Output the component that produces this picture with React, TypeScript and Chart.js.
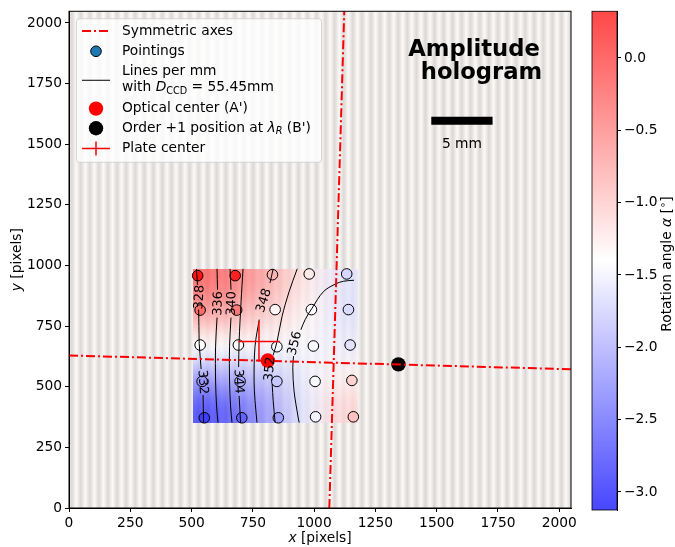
import React, { useEffect, useRef } from "react";
import { Chart, registerables } from "chart.js";

Chart.register(...registerables);

const FONT = "'DejaVu Sans', 'Liberation Sans', sans-serif";
const TICK_SIZE = 13.8;

// ---- axes ----
const X_MIN = 0;
const X_MAX = 2048;
const Y_MIN = 0;
const Y_MAX = 2048;
const X_TICKS = [0, 250, 500, 750, 1000, 1250, 1500, 1750, 2000];
const Y_TICKS = [0, 250, 500, 750, 1000, 1250, 1500, 1750, 2000];

// ---- colour scale (rotation angle, degrees) ----
const ALPHA_MIN = -3.125;
const ALPHA_MAX = 0.323;
const CB_TICKS = [-3.0, -2.5, -2.0, -1.5, -1.0, -0.5, 0.0];
const CMAP_ALPHA = 0.72;

// ---- pointings (5 x 5 grid) ----
const POINTING_X = [525, 678, 830, 980, 1133, 535, 684, 841, 989, 1140, 535, 691, 848, 997, 1147, 543, 698, 848, 1004, 1154, 552, 705, 854, 1006, 1160];
const POINTING_Y = [958, 958, 962, 965, 965, 816, 816, 818, 818, 818, 672, 672, 665, 668, 672, 522, 522, 522, 522, 526, 372, 372, 372, 376, 376];
const POINTING_ALPHA = [0.2, 0.1, -0.89, -1.25, -1.67, -0.4, -0.5, -1.35, -1.42, -1.65, -1.4, -1.42, -1.45, -1.45, -1.6, -2.1, -1.95, -1.78, -1.45, -1.1, -2.71, -2.47, -2.05, -1.5, -0.98];

// ---- rotation-angle field (image extent and 5 x 5 cells, top row first) ----
const FIELD_X = [506, 1180];
const FIELD_Y = [352, 986];
const FIELD_ALPHA = [
  [-0.2, -0.45, -0.85, -1.25, -1.6],
  [-0.7, -0.85, -1.1, -1.35, -1.6],
  [-1.4, -1.42, -1.45, -1.45, -1.52],
  [-2.15, -2.0, -1.8, -1.5, -1.3],
  [-2.85, -2.55, -2.05, -1.55, -1.1],
];

// ---- special positions ----
const OPTICAL_CENTER = [811, 608];
const ORDER1_POSITION = [1344, 592];
const PLATE_CENTER = [775, 687];
const PLATE_ERR = [84, 84];
const SYM_AXIS_H = [[0, 629], [2048, 572]];
const SYM_AXIS_V = [[1062, 0], [1123, 2048]];

// ---- lines per mm contours (null = gap for the inline label) ----
const CONTOUR_LEVELS = [328, 332, 336, 340, 344, 348, 352, 356];
const CONTOUR_328 = [[520, 986], [524, 920], null, [529, 818], [531, 679]];
const CONTOUR_332 = [[531, 679], [539, 573], null, [547, 466], [549, 352]];
const CONTOUR_336 = [[604, 986], [606, 900], null, [604, 785], [598, 667], [598, 524], [602, 421], [608, 352]];
const CONTOUR_340 = [[657, 986], [661, 900], null, [661, 785], [655, 667], [655, 524], [659, 421], [665, 352]];
const CONTOUR_344 = [[710, 986], [702, 851], [694, 687], [692, 581], null, [694, 462], [700, 352]];
const CONTOUR_348 = [[833, 986], [820, 928], null, [776, 777], [759, 667], [755, 524], [759, 442], [767, 352]];
const CONTOUR_352 = [[931, 986], [898, 892], [869, 789], [849, 687], [833, 630], null, [829, 511], [833, 442], [841, 352]];
const CONTOUR_356 = [[1163, 939], [1120, 935], [1086, 923], [1038, 892], [991, 823], [963, 776], [946, 735], null, [916, 626], [913, 578], [918, 483], [936, 367], [939, 352]];
const CONTOUR_PATHS = [CONTOUR_328, CONTOUR_332, CONTOUR_336, CONTOUR_340, CONTOUR_344, CONTOUR_348, CONTOUR_352, CONTOUR_356];
const CONTOUR_LABEL_X = [533, 545, 609, 664, 691, 796, 820, 922];
const CONTOUR_LABEL_Y = [869, 519, 843, 843, 522, 855, 573, 679];
const CONTOUR_LABEL_ROT = [-87, 86, -88, -88, 87, -72, -85, -76];

// ---- hologram fringes and annotations ----
const FRINGE_PERIOD = 37;
const SCALE_BAR_START = 1478;
const SCALE_BAR_LENGTH = 250;
const SCALE_BAR_Y = 1597;
const SCALE_BAR_LABEL = "5 mm";
const TITLE_LINES = ["Amplitude", "hologram"];

function cmapRGB(v: number): number[] {
  let t = (v - ALPHA_MIN) / (ALPHA_MAX - ALPHA_MIN);
  t = Math.max(0, Math.min(1, t));
  if (t < 0.5) return [510 * t, 510 * t, 255];
  return [255, 510 * (1 - t), 510 * (1 - t)];
}
function onWhite(c: number[], a: number) {
  return c.map((v) => Math.round(255 * (1 - a) + a * v));
}
const rgb = (c: number[]) => `rgb(${Math.round(c[0])},${Math.round(c[1])},${Math.round(c[2])})`;

type Run = { t: string; style?: string; weight?: string; scale?: number; dy?: number };
function runFont(r: Run, size: number) {
  return `${r.style || "normal"} ${r.weight || "normal"} ${size * (r.scale || 1)}px ${FONT}`;
}
function drawRuns(ctx: CanvasRenderingContext2D, runs: Run[], x: number, y: number, size: number, align: "left" | "center") {
  let w = 0;
  for (const r of runs) {
    ctx.font = runFont(r, size);
    w += ctx.measureText(r.t).width;
  }
  let cx = align === "center" ? x - w / 2 : x;
  ctx.textAlign = "left";
  ctx.textBaseline = "middle";
  for (const r of runs) {
    ctx.font = runFont(r, size);
    ctx.fillText(r.t, cx, y + (r.dy || 0));
    cx += ctx.measureText(r.t).width;
  }
}

const toPts = (path: (number[] | null)[]) =>
  path.map((p) => (p ? { x: p[0], y: p[1] } : { x: null as any, y: null as any }));

const mainPlugin = {
  id: "hologram",
  beforeDraw(chart: any) {
    const { ctx, chartArea: ca, scales } = chart;
    ctx.save();
    ctx.fillStyle = "#ffffff";
    ctx.fillRect(0, 0, chart.width, chart.height);
    ctx.beginPath();
    ctx.rect(ca.left, ca.top, ca.right - ca.left, ca.bottom - ca.top);
    ctx.clip();
    ctx.fillStyle = "#fbfaf6";
    ctx.fillRect(ca.left, ca.top, ca.right - ca.left, ca.bottom - ca.top);
    const x0 = scales.x.getPixelForValue(0);
    const period = Math.abs(scales.x.getPixelForValue(FRINGE_PERIOD) - x0);
    for (let px = x0 + period * 0.3; px < ca.right + period; px += period) {
      const g = ctx.createLinearGradient(px - period / 2, 0, px + period / 2, 0);
      g.addColorStop(0, "rgba(221,215,216,0)");
      g.addColorStop(0.5, "rgba(221,215,216,1)");
      g.addColorStop(1, "rgba(221,215,216,0)");
      ctx.fillStyle = g;
      ctx.fillRect(px - period / 2, ca.top, period, ca.bottom - ca.top);
    }
    ctx.restore();
  },
  beforeDatasetsDraw(chart: any) {
    const { ctx, scales } = chart;
    const rows = FIELD_ALPHA.length;
    const cols = FIELD_ALPHA[0].length;
    const off = document.createElement("canvas");
    off.width = cols;
    off.height = rows;
    const octx = off.getContext("2d")!;
    const img = octx.createImageData(cols, rows);
    for (let r = 0; r < rows; r++)
      for (let c = 0; c < cols; c++) {
        const col = cmapRGB(FIELD_ALPHA[r][c]);
        const i = (r * cols + c) * 4;
        img.data[i] = col[0];
        img.data[i + 1] = col[1];
        img.data[i + 2] = col[2];
        img.data[i + 3] = 255;
      }
    octx.putImageData(img, 0, 0);
    const l = scales.x.getPixelForValue(FIELD_X[0]);
    const r = scales.x.getPixelForValue(FIELD_X[1]);
    const t = scales.y.getPixelForValue(FIELD_Y[1]);
    const b = scales.y.getPixelForValue(FIELD_Y[0]);
    ctx.save();
    ctx.globalAlpha = CMAP_ALPHA;
    ctx.imageSmoothingEnabled = true;
    (ctx as any).imageSmoothingQuality = "high";
    ctx.drawImage(off, l, t, r - l, b - t);
    ctx.restore();
  },
  afterDatasetsDraw(chart: any) {
    const { ctx, chartArea: ca, scales } = chart;
    const X = (v: number) => scales.x.getPixelForValue(v);
    const Y = (v: number) => scales.y.getPixelForValue(v);
    ctx.save();
    // contour labels
    ctx.fillStyle = "#000";
    ctx.font = `12.8px ${FONT}`;
    ctx.textAlign = "center";
    ctx.textBaseline = "middle";
    CONTOUR_LEVELS.forEach((lev, i) => {
      ctx.save();
      ctx.translate(X(CONTOUR_LABEL_X[i]), Y(CONTOUR_LABEL_Y[i]));
      ctx.rotate((CONTOUR_LABEL_ROT[i] * Math.PI) / 180);
      ctx.fillText(String(lev), 0, 0);
      ctx.restore();
    });
    // title
    ctx.font = `bold 22.7px ${FONT}`;
    ctx.textAlign = "left";
    ctx.textBaseline = "alphabetic";
    ctx.fillText(TITLE_LINES[0], X(1384), Y(1863));
    ctx.fillText(TITLE_LINES[1], X(1435), Y(1767));
    // scale bar
    ctx.strokeStyle = "#000";
    ctx.lineWidth = 8;
    ctx.beginPath();
    ctx.moveTo(X(SCALE_BAR_START), Y(SCALE_BAR_Y));
    ctx.lineTo(X(SCALE_BAR_START + SCALE_BAR_LENGTH), Y(SCALE_BAR_Y));
    ctx.stroke();
    ctx.font = `13.8px ${FONT}`;
    ctx.textAlign = "center";
    ctx.textBaseline = "alphabetic";
    ctx.fillText(SCALE_BAR_LABEL, X(SCALE_BAR_START + SCALE_BAR_LENGTH / 2), Y(1486));

    // legend
    const lx = ca.left + 7.5;
    const ly = ca.top + 7.5;
    const lw = 245;
    const lh = 143.5;
    ctx.beginPath();
    (ctx as any).roundRect(lx, ly, lw, lh, 3);
    ctx.fillStyle = "rgba(255,255,255,0.8)";
    ctx.fill();
    ctx.strokeStyle = "rgba(204,204,204,0.8)";
    ctx.lineWidth = 1;
    ctx.stroke();
    const hx0 = ca.left + 13;
    const hx1 = ca.left + 41;
    const hc = ca.left + 27;
    const tx = ca.left + 53;
    const ry = [19.7, 40, 69, 97.3, 117, 137.3].map((v) => ca.top + v);
    // 1 symmetric axes
    ctx.strokeStyle = "#ff0000";
    ctx.lineWidth = 2;
    ctx.setLineDash([9, 3, 2, 3]);
    ctx.beginPath();
    ctx.moveTo(hx0, ry[0]);
    ctx.lineTo(hx1, ry[0]);
    ctx.stroke();
    ctx.setLineDash([]);
    // 2 pointings
    ctx.beginPath();
    ctx.arc(hc, ry[1], 5.3, 0, Math.PI * 2);
    ctx.fillStyle = "#1f77b4";
    ctx.fill();
    ctx.strokeStyle = "#000";
    ctx.lineWidth = 1;
    ctx.stroke();
    // 3 lines per mm
    ctx.beginPath();
    ctx.moveTo(hx0, ry[2]);
    ctx.lineTo(hx1, ry[2]);
    ctx.strokeStyle = "#000";
    ctx.lineWidth = 1;
    ctx.stroke();
    // 4 optical center
    ctx.beginPath();
    ctx.arc(hc, ry[3], 7.2, 0, Math.PI * 2);
    ctx.fillStyle = "#ff0000";
    ctx.fill();
    // 5 order +1
    ctx.beginPath();
    ctx.arc(hc, ry[4], 7.2, 0, Math.PI * 2);
    ctx.fillStyle = "#000";
    ctx.fill();
    // 6 plate center
    ctx.strokeStyle = "#ff0000";
    ctx.lineWidth = 1.5;
    ctx.beginPath();
    ctx.moveTo(hx0, ry[5]);
    ctx.lineTo(hx1, ry[5]);
    ctx.moveTo(hc, ry[5] - 7);
    ctx.lineTo(hc, ry[5] + 7);
    ctx.stroke();
    // texts
    ctx.fillStyle = "#000";
    const fs = 13.8;
    drawRuns(ctx, [{ t: "Symmetric axes" }], tx, ry[0], fs, "left");
    drawRuns(ctx, [{ t: "Pointings" }], tx, ry[1], fs, "left");
    drawRuns(ctx, [{ t: "Lines per mm" }], tx, ca.top + 59.7, fs, "left");
    drawRuns(
      ctx,
      [
        { t: "with " },
        { t: "D", style: "italic" },
        { t: "CCD", scale: 0.7, dy: 3.5 },
        { t: " = 55.45mm" },
      ],
      tx,
      ca.top + 76.3,
      fs,
      "left"
    );
    drawRuns(ctx, [{ t: "Optical center (A')" }], tx, ry[3], fs, "left");
    drawRuns(
      ctx,
      [
        { t: "Order +1 position at " },
        { t: "λ", style: "italic" },
        { t: "R", style: "italic", scale: 0.7, dy: 3.5 },
        { t: " (B')" },
      ],
      tx,
      ry[4],
      fs,
      "left"
    );
    drawRuns(ctx, [{ t: "Plate center" }], tx, ry[5], fs, "left");
    ctx.restore();
  },
  afterDraw(chart: any) {
    const { ctx, chartArea: ca } = chart;
    ctx.save();
    ctx.strokeStyle = "#000";
    ctx.lineWidth = 1;
    ctx.strokeRect(ca.left, ca.top, ca.right - ca.left, ca.bottom - ca.top);
    ctx.fillStyle = "#000";
    drawRuns(ctx, [{ t: "x", style: "italic" }, { t: " [pixels]" }], (ca.left + ca.right) / 2, 538.5, TICK_SIZE, "center");
    ctx.translate(17.5, (ca.top + ca.bottom) / 2);
    ctx.rotate(-Math.PI / 2);
    drawRuns(ctx, [{ t: "y", style: "italic" }, { t: " [pixels]" }], 0, 0, TICK_SIZE, "center");
    ctx.restore();
  },
};

const colorbarPlugin = {
  id: "colorbar",
  beforeDraw(chart: any) {
    const { ctx } = chart;
    ctx.save();
    ctx.fillStyle = "#fff";
    ctx.fillRect(0, 0, chart.width, chart.height);
    ctx.restore();
  },
  beforeDatasetsDraw(chart: any) {
    const { ctx, chartArea: ca, scales } = chart;
    const yTop = scales.y.getPixelForValue(ALPHA_MAX);
    const yBot = scales.y.getPixelForValue(ALPHA_MIN);
    const g = ctx.createLinearGradient(0, yTop, 0, yBot);
    g.addColorStop(0, rgb(onWhite(cmapRGB(ALPHA_MAX), CMAP_ALPHA)));
    g.addColorStop(0.5, rgb(onWhite(cmapRGB((ALPHA_MAX + ALPHA_MIN) / 2), CMAP_ALPHA)));
    g.addColorStop(1, rgb(onWhite(cmapRGB(ALPHA_MIN), CMAP_ALPHA)));
    ctx.save();
    ctx.fillStyle = g;
    ctx.fillRect(ca.left, yTop, ca.right - ca.left, yBot - yTop);
    ctx.restore();
  },
  afterDraw(chart: any) {
    const { ctx, chartArea: ca } = chart;
    ctx.save();
    ctx.strokeStyle = "#000";
    ctx.lineWidth = 0.8;
    ctx.strokeRect(ca.left, ca.top, ca.right - ca.left, ca.bottom - ca.top);
    ctx.fillStyle = "#000";
    ctx.translate(82, 264);
    ctx.rotate(-Math.PI / 2);
    drawRuns(
      ctx,
      [
        { t: "Rotation angle " },
        { t: "α", style: "italic" },
        { t: " [" },
        { t: "∘", scale: 0.75, dy: -4 },
        { t: "]" },
      ],
      0,
      0,
      TICK_SIZE,
      "center"
    );
    ctx.restore();
  },
};

export default function App() {
  const mainRef = useRef<HTMLCanvasElement>(null);
  const cbRef = useRef<HTMLCanvasElement>(null);

  useEffect(() => {
    const tickFont = { family: FONT, size: TICK_SIZE };
    const pointColors = POINTING_ALPHA.map((a) => rgb(cmapRGB(a)));
    const contourSets = CONTOUR_PATHS.map((p, i) => ({
      label: `lines ${CONTOUR_LEVELS[i]}`,
      data: toPts(p),
      showLine: true,
      borderColor: "#000",
      borderWidth: 1,
      pointRadius: 0,
      tension: 0.35,
      spanGaps: false,
      order: 4,
    }));
    const symData = toPts([SYM_AXIS_H[0], SYM_AXIS_H[1], null, SYM_AXIS_V[0], SYM_AXIS_V[1]]);
    const plateData = toPts([
      [PLATE_CENTER[0] - PLATE_ERR[0], PLATE_CENTER[1]],
      [PLATE_CENTER[0] + PLATE_ERR[0], PLATE_CENTER[1]],
      null,
      [PLATE_CENTER[0], PLATE_CENTER[1] - PLATE_ERR[1]],
      [PLATE_CENTER[0], PLATE_CENTER[1] + PLATE_ERR[1]],
    ]);

    const fixedTicks = (vals: number[]) => (s: any) => {
      s.ticks = vals.map((v) => ({ value: v }));
    };

    const main = new Chart(mainRef.current!, {
      type: "scatter",
      data: {
        datasets: [
          {
            label: "Symmetric axes",
            data: symData,
            showLine: true,
            borderColor: "#ff0000",
            borderWidth: 2,
            borderDash: [9, 3, 2, 3],
            pointRadius: 0,
            spanGaps: false,
            order: 0,
          },
          {
            label: "Order +1 position",
            data: [{ x: ORDER1_POSITION[0], y: ORDER1_POSITION[1] }],
            pointRadius: 7.2,
            backgroundColor: "#000",
            borderWidth: 0,
            order: 1,
          },
          {
            label: "Optical center",
            data: [{ x: OPTICAL_CENTER[0], y: OPTICAL_CENTER[1] }],
            pointRadius: 7.2,
            backgroundColor: "#ff0000",
            borderWidth: 0,
            order: 2,
          },
          {
            label: "Plate center",
            data: plateData,
            showLine: true,
            borderColor: "#ff0000",
            borderWidth: 1.5,
            pointRadius: 0,
            spanGaps: false,
            order: 3,
          },
          ...contourSets,
          {
            label: "Pointings",
            data: POINTING_X.map((x, i) => ({ x, y: POINTING_Y[i] })),
            pointRadius: 5.3,
            backgroundColor: pointColors,
            borderColor: "#000",
            borderWidth: 1,
            order: 5,
          },
        ] as any,
      },
      options: {
        animation: false,
        responsive: false,
        events: [],
        layout: { padding: { left: 0, top: 7, right: 19, bottom: 0 } },
        plugins: { legend: { display: false }, tooltip: { enabled: false } },
        scales: {
          x: {
            type: "linear",
            min: X_MIN,
            max: X_MAX,
            afterBuildTicks: fixedTicks(X_TICKS),
            afterFit: (s: any) => {
              s.height = 39;
            },
            ticks: {
              autoSkip: false,
              maxRotation: 0,
              color: "#000",
              font: tickFont,
              padding: 3,
              callback: (v: any) => String(v),
            },
            grid: { display: true, drawOnChartArea: false, drawTicks: true, tickLength: 4, color: "#000" },
            border: { display: true, color: "#000" },
          },
          y: {
            type: "linear",
            min: Y_MIN,
            max: Y_MAX,
            afterBuildTicks: fixedTicks(Y_TICKS),
            afterFit: (s: any) => {
              s.width = 69;
            },
            ticks: {
              autoSkip: false,
              color: "#000",
              font: tickFont,
              padding: 3,
              callback: (v: any) => String(v),
            },
            grid: { display: true, drawOnChartArea: false, drawTicks: true, tickLength: 4, color: "#000" },
            border: { display: true, color: "#000" },
          },
        },
      } as any,
      plugins: [mainPlugin],
    });

    const cb = new Chart(cbRef.current!, {
      type: "scatter",
      data: { datasets: [] },
      options: {
        animation: false,
        responsive: false,
        events: [],
        layout: { padding: { left: 7, top: 5, right: 0, bottom: 37 } },
        plugins: { legend: { display: false }, tooltip: { enabled: false } },
        scales: {
          x: { display: false, min: 0, max: 1 },
          y: {
            type: "linear",
            position: "right",
            min: ALPHA_MIN,
            max: ALPHA_MAX,
            afterBuildTicks: fixedTicks(CB_TICKS),
            afterFit: (s: any) => {
              s.width = 58;
            },
            ticks: {
              autoSkip: false,
              color: "#000",
              font: tickFont,
              padding: 3,
              callback: (v: any) => (v < -1e-9 ? "\u2212" : "") + Math.abs(v).toFixed(1),
            },
            grid: { display: true, drawOnChartArea: false, drawTicks: true, tickLength: 4, color: "#000" },
            border: { display: true, color: "#000" },
          },
        },
      } as any,
      plugins: [colorbarPlugin],
    });

    return () => {
      main.destroy();
      cb.destroy();
    };
  }, []);

  return (
    <div style={{ position: "absolute", left: 0, top: 0, width: 675, height: 547, background: "#fff" }}>
      <canvas
        ref={mainRef}
        width={590}
        height={547}
        style={{ position: "absolute", left: 0, top: 0, width: 590, height: 547 }}
      />
      <canvas
        ref={cbRef}
        width={90}
        height={547}
        style={{ position: "absolute", left: 585, top: 0, width: 90, height: 547 }}
      />
    </div>
  );
}
